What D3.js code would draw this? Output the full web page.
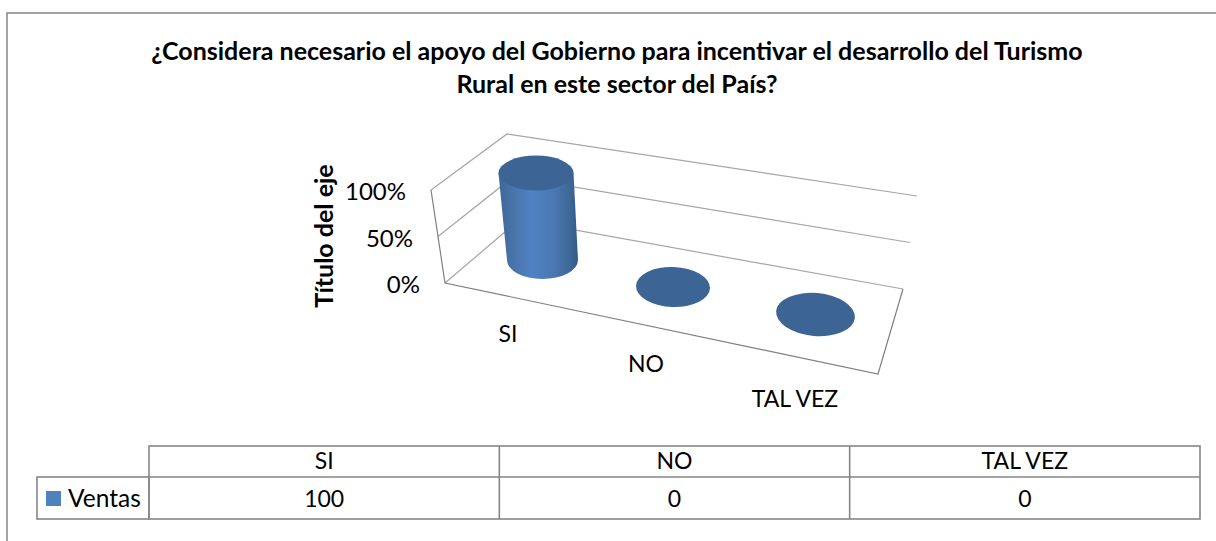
<!DOCTYPE html>
<html>
<head>
<meta charset="utf-8">
<script src="https://cdn.jsdelivr.net/npm/d3@7"></script>
<style>
  html, body { margin: 0; padding: 0; background: #fff; }
  svg { display: block; }
  text { font-family: Lato, "Open Sans", sans-serif; fill: #000; }
</style>
</head>
<body>
<div id="viz"></div>
<script>
var titleLines = ['¿Considera necesario el apoyo del Gobierno para incentivar el desarrollo del Turismo',
  'Rural en este sector del País?'];
var categories = ['SI', 'NO', 'TAL VEZ'];
var seriesName = 'Ventas';
var seriesValues = [100, 0, 0];
var tickValues = [0, 50, 100];
var axisTitle = 'Título del eje';

var width = 1216,
  height = 541,
  lineColor = '#868686',
  wallColor = '#a6a6a6';

var svg = d3.select('#viz').append('svg')
  .attr('width', width)
  .attr('height', height);

// chart area border, it runs off the picture at the right and bottom
svg.append('path')
  .attr('d', 'M7,541V13H1216')
  .attr('fill', 'none')
  .attr('stroke', lineColor)
  .attr('stroke-width', 1.5);

svg.selectAll('.title').data(titleLines)
  .enter().append('text')
  .attr('class', 'title')
  .attr('x', 617)
  .attr('y', function(d, i) { return 60 + i * 33; })
  .attr('text-anchor', 'middle')
  .style('font-size', '25px')
  .style('font-weight', 'bold')
  .text(function(d) { return d; });

// fake 3d box: one scale per corner, value goes up the wall
var frontX = d3.scaleLinear().domain([0, 100]).range([445, 431]);
var frontY = d3.scaleLinear().domain([0, 100]).range([283, 190]);
var backX = d3.scaleLinear().domain([0, 100]).range([519, 507]);
var backY = d3.scaleLinear().domain([0, 100]).range([220, 134]);
var rightX = d3.scaleLinear().domain([0, 100]).range([903, 917]);
var rightY = d3.scaleLinear().domain([0, 100]).range([289, 196]);

var floorFront = [878, 374];

var wall = svg.append('g')
  .attr('fill', 'none')
  .attr('stroke', wallColor)
  .attr('stroke-width', 1.2);

wall.selectAll('.grid').data(tickValues)
  .enter().append('path')
  .attr('class', 'grid')
  .attr('d', function(d) {
    return d3.line()([
      [frontX(d), frontY(d)],
      [backX(d), backY(d)],
      [rightX(d), rightY(d)]
    ]);
  });

wall.append('path')
  .attr('d', d3.line()([
    [frontX(100), frontY(100)],
    [frontX(0), frontY(0)],
    floorFront,
    [rightX(0), rightY(0)]
  ]))
  .attr('stroke', '#7f7f7f');

// value labels next to the front wall edge
svg.selectAll('.tick').data(tickValues)
  .enter().append('text')
  .attr('class', 'tick')
  .attr('x', function(d) { return frontX(d) - 25; })
  .attr('y', function(d) { return frontY(d) + 10; })
  .attr('text-anchor', 'end')
  .style('font-size', '24px')
  .text(function(d) { return d + '%'; });

svg.append('text')
  .attr('transform', 'translate(333,236) rotate(-90)')
  .attr('text-anchor', 'middle')
  .style('font-size', '25px')
  .style('font-weight', 'bold')
  .text(axisTitle);

// cylinders sit on the floor, they get bigger towards the right
var baseX = d3.scaleLinear().domain([0, 1, 2]).range([542.5, 673, 815.5]);
var baseY = d3.scaleLinear().domain([0, 1, 2]).range([260, 287, 314.5]);
var radiusX = d3.scaleLinear().domain([0, 1, 2]).range([35.5, 37, 39.5]);
var radiusY = d3.scaleLinear().domain([0, 1, 2]).range([19, 20, 21.5]);
var tilt = d3.scaleLinear().domain([0, 1, 2]).range([0, 2, 5]);
var heightScale = d3.scaleLinear().domain([0, 100]).range([0, 87]);
var leanScale = d3.scaleLinear().domain([0, 100]).range([0, 6.5]);
var capWidth = d3.scaleLinear().domain([0, 100]).range([0, 2]);
var capFlat = d3.scaleLinear().domain([0, 100]).range([0, 1.5]);

var grad = svg.append('defs').append('linearGradient')
  .attr('id', 'side')
  .attr('x1', '0%').attr('x2', '100%')
  .attr('y1', '0%').attr('y2', '0%');
[['0%', '#3d6797'], ['12%', '#4670a3'], ['42%', '#5082c3'], ['70%', '#4a78b0'],
  ['90%', '#3d6797'], ['100%', '#335a86']].forEach(function(s) {
  grad.append('stop').attr('offset', s[0]).attr('stop-color', s[1]);
});

var bars = svg.selectAll('.bar')
  .data(categories.map(function(c, i) { return { name: c, value: seriesValues[i], i: i }; }))
  .enter().append('g')
  .attr('class', 'bar');

bars.filter(function(d) { return d.value > 0; })
  .append('path')
  .attr('fill', 'url(#side)')
  .attr('d', function(d) {
    var bx = baseX(d.i), by = baseY(d.i), rx = radiusX(d.i), ry = radiusY(d.i);
    var tx = bx - leanScale(d.value), ty = by - heightScale(d.value), trx = rx + capWidth(d.value);
    return 'M' + (tx - trx) + ',' + ty +
      'L' + (bx - rx) + ',' + by +
      'A' + rx + ',' + ry + ' 0 0 0 ' + (bx + rx) + ',' + by +
      'L' + (tx + trx) + ',' + ty + 'Z';
  });

bars.append('ellipse')
  .attr('fill', '#3c6494')
  .attr('cx', 0)
  .attr('cy', 0)
  .attr('rx', function(d) { return radiusX(d.i) + capWidth(d.value); })
  .attr('ry', function(d) { return radiusY(d.i) - capFlat(d.value); })
  .attr('transform', function(d) {
    return 'translate(' + (baseX(d.i) - leanScale(d.value)) + ',' + (baseY(d.i) - heightScale(d.value)) + ') rotate(' + tilt(d.i) + ')';
  });

var catX = d3.scaleOrdinal().domain(categories).range([508, 646, 795]);
var catY = d3.scaleOrdinal().domain(categories).range([342, 372, 407]);

svg.selectAll('.cat').data(categories)
  .enter().append('text')
  .attr('class', 'cat')
  .attr('x', function(d) { return catX(d); })
  .attr('y', function(d) { return catY(d); })
  .attr('text-anchor', 'middle')
  .style('font-size', '23px')
  .text(function(d) { return d; });

// data table under the plot
var colX = d3.scaleBand().domain(categories).range([149, 1200]);
var rowTop = 446, rowMid = 477, rowBottom = 519, legendLeft = 37;

var table = svg.append('g')
  .attr('fill', 'none')
  .attr('stroke', lineColor)
  .attr('stroke-width', 1.6);

table.append('rect')
  .attr('x', colX.range()[0]).attr('y', rowTop)
  .attr('width', colX.range()[1] - colX.range()[0])
  .attr('height', rowBottom - rowTop);
table.append('rect')
  .attr('x', legendLeft).attr('y', rowMid)
  .attr('width', colX.range()[0] - legendLeft)
  .attr('height', rowBottom - rowMid);
table.append('line')
  .attr('x1', colX.range()[0]).attr('x2', colX.range()[1])
  .attr('y1', rowMid).attr('y2', rowMid);
table.selectAll('.col').data(categories.slice(1))
  .enter().append('line')
  .attr('class', 'col')
  .attr('x1', function(d) { return colX(d); })
  .attr('x2', function(d) { return colX(d); })
  .attr('y1', rowTop)
  .attr('y2', rowBottom);

svg.selectAll('.head').data(categories)
  .enter().append('text')
  .attr('class', 'head')
  .attr('x', function(d) { return colX(d) + colX.bandwidth() / 2; })
  .attr('y', 469)
  .attr('text-anchor', 'middle')
  .style('font-size', '23px')
  .text(function(d) { return d; });

svg.selectAll('.val').data(seriesValues)
  .enter().append('text')
  .attr('class', 'val')
  .attr('x', function(d, i) { return colX(categories[i]) + colX.bandwidth() / 2; })
  .attr('y', 507)
  .attr('text-anchor', 'middle')
  .style('font-size', '23px')
  .text(function(d) { return d; });

svg.append('rect')
  .attr('x', 46).attr('y', 491)
  .attr('width', 15).attr('height', 15)
  .attr('fill', '#4f81bd');

svg.append('text')
  .attr('x', 68)
  .attr('y', 507)
  .style('font-size', '24.5px')
  .text(seriesName);
</script>
</body>
</html>
